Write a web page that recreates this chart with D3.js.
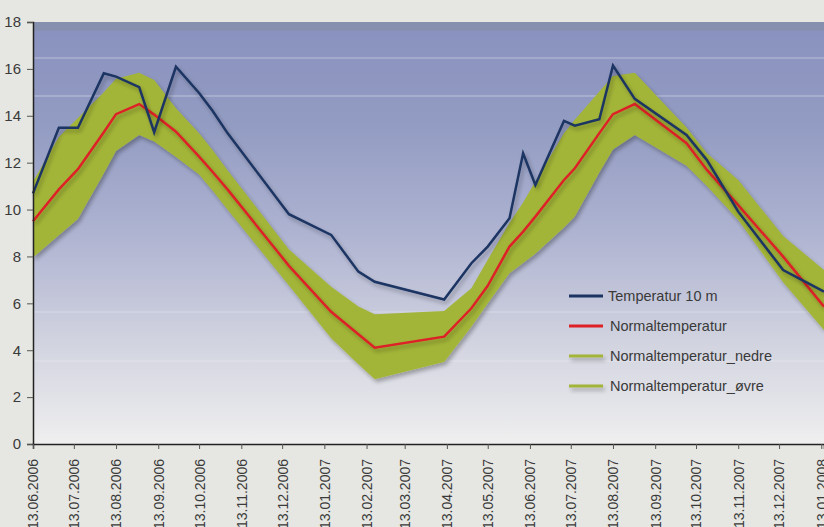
<!DOCTYPE html>
<html>
<head>
<meta charset="utf-8">
<script src="https://cdn.jsdelivr.net/npm/d3@7"></script>
<style>
  body { margin: 0; background: #e6e7e2; }
  svg { display: block; }
  text { font-family: "Liberation Sans", Arial, sans-serif; fill: #3a3a3a; }
</style>
</head>
<body>
<svg width="824" height="527"></svg>
<script>
// measurement dates (shared by all series)
const dates = ['2006-06-13', '2006-07-02', '2006-07-16', '2006-08-04', '2006-08-13', '2006-08-30',
  '2006-09-10', '2006-09-26', '2006-10-13', '2006-10-23', '2006-11-03', '2006-12-18',
  '2007-01-18', '2007-02-07', '2007-02-19', '2007-04-11', '2007-05-01', '2007-05-13',
  '2007-05-29', '2007-06-08', '2007-06-17', '2007-07-08', '2007-07-16', '2007-08-03',
  '2007-08-13', '2007-08-29', '2007-10-06', '2007-10-21', '2007-11-13', '2007-12-16', '2008-01-15'];

const temp10m = [10.69, 13.49, 13.49, 15.81, 15.67, 15.22, 13.30, 16.09, 14.97, 14.2, 13.25, 9.80,
  8.92, 7.35, 6.92, 6.16, 7.71, 8.42, 9.63, 12.40, 11.05, 13.78, 13.58, 13.85,
  16.14, 14.72, 13.18, 12.11, 9.91, 7.42, 6.5];

const normal = [9.5, 10.86, 11.72, 13.3, 14.07, 14.5, 14.05, 13.32, 12.26, 11.6, 10.85, 7.6,
  5.64, 4.68, 4.11, 4.58, 5.79, 6.75, 8.42, 9.06, 9.7, 11.26, 11.76, 13.26,
  14.07, 14.5, 12.83, 11.69, 10.19, 7.99, 5.86];

const nedre = [7.96, 8.9, 9.6, 11.54, 12.5, 13.18, 12.9, 12.24, 11.5, 10.8, 9.99, 6.76,
  4.51, 3.4, 2.76, 3.5, 5.0, 5.99, 7.28, 7.72, 8.12, 9.23, 9.7, 11.58,
  12.56, 13.18, 11.87, 11.0, 9.55, 6.9, 4.86];

const ovre = [11.2, 13.1, 13.9, 15.0, 15.58, 15.84, 15.53, 14.32, 13.25, 12.53, 11.67, 8.3,
  6.71, 5.87, 5.53, 5.67, 6.64, 7.86, 9.43, 10.3, 11.2, 13.25, 13.83, 15.04,
  15.7, 15.84, 13.5, 12.4, 11.26, 8.87, 7.42];

const xTickLabels = ['13.06.2006', '13.07.2006', '13.08.2006', '13.09.2006', '13.10.2006',
  '13.11.2006', '13.12.2006', '13.01.2007', '13.02.2007', '13.03.2007', '13.04.2007',
  '13.05.2007', '13.06.2007', '13.07.2007', '13.08.2007', '13.09.2007', '13.10.2007',
  '13.11.2007', '13.12.2007', '13.01.2008'];
const yTicks = [0, 2, 4, 6, 8, 10, 12, 14, 16, 18];

const legendNames = ['Temperatur 10 m', 'Normaltemperatur', 'Normaltemperatur_nedre', 'Normaltemperatur_øvre'];
const legendColors = ['#1b3462', '#dc2127', '#a3b538', '#a3b538'];

const parse = d3.timeParse('%Y-%m-%d');
const parseTick = d3.timeParse('%d.%m.%Y');
const data = dates.map((d, i) => ({
  date: parse(d), t: temp10m[i], n: normal[i], lo: nedre[i], hi: ovre[i]
}));

const margin = { left: 33, right: 824, top: 22, bottom: 444 };

const svg = d3.select('svg');

const x = d3.scaleTime()
  .domain([parse('2006-06-13'), parse('2008-01-15')])
  .range([margin.left, margin.right]);
const y = d3.scaleLinear()
  .domain([0, 18])
  .range([margin.bottom, margin.top]);

const defs = svg.append('defs');
const grad = defs.append('linearGradient')
  .attr('id', 'bg').attr('x1', 0).attr('y1', 0).attr('x2', 0).attr('y2', 1);
[[0, '#878fae'], [0.02, '#878fb0'], [0.021, '#8a92bf'], [0.25, '#939cc2'], [0.5, '#aeb3d1'],
  [0.75, '#d0d2df'], [1, '#efefef']].forEach(s => {
  grad.append('stop').attr('offset', s[0]).attr('stop-color', s[1]);
});

const shadow = defs.append('filter').attr('id', 'shadow')
  .attr('filterUnits', 'userSpaceOnUse')
  .attr('x', 0).attr('y', 0).attr('width', 824).attr('height', 527);
shadow.append('feGaussianBlur').attr('in', 'SourceAlpha').attr('stdDeviation', 2);
shadow.append('feOffset').attr('dx', 2).attr('dy', 3).attr('result', 'off');
shadow.append('feComponentTransfer').append('feFuncA').attr('type', 'linear').attr('slope', 0.3);
const merge = shadow.append('feMerge');
merge.append('feMergeNode');
merge.append('feMergeNode').attr('in', 'SourceGraphic');

// plot background
svg.append('rect')
  .attr('x', margin.left).attr('y', margin.top)
  .attr('width', margin.right - margin.left).attr('height', margin.bottom - margin.top)
  .attr('fill', 'url(#bg)');

// faint light bands from the background
[58, 96, 312, 361].forEach((py, i) => {
  svg.append('line')
    .attr('x1', margin.left).attr('x2', margin.right).attr('y1', py).attr('y2', py)
    .attr('stroke', '#fff').attr('stroke-opacity', i < 2 ? 0.4 : 0.3).attr('stroke-width', 1);
});

const chart = svg.append('g');

// normal range band
chart.append('path')
  .datum(data)
  .attr('fill', '#a3b538')
  .attr('filter', 'url(#shadow)')
  .attr('d', d3.area()
    .x(d => x(d.date))
    .y0(d => y(d.lo))
    .y1(d => y(d.hi)));

chart.append('path')
  .datum(data)
  .attr('fill', 'none')
  .attr('stroke', '#dc2127')
  .attr('stroke-width', 2.5)
  .attr('filter', 'url(#shadow)')
  .attr('d', d3.line().x(d => x(d.date)).y(d => y(d.n)));

chart.append('path')
  .datum(data)
  .attr('fill', 'none')
  .attr('stroke', '#1b3462')
  .attr('stroke-width', 2.5)
  .attr('filter', 'url(#shadow)')
  .attr('d', d3.line().x(d => x(d.date)).y(d => y(d.t)));

// y axis
const yAxis = svg.append('g')
  .attr('transform', `translate(${margin.left},0)`)
  .call(d3.axisLeft(y).tickValues(yTicks).tickSize(6).tickPadding(6));
yAxis.select('.domain').attr('stroke', '#222').attr('stroke-width', 1.5);
yAxis.selectAll('.tick line').attr('stroke', '#555');
yAxis.selectAll('text').attr('font-size', 15).attr('fill', '#3a3a3a')
  .attr('font-family', '"Liberation Sans", Arial, sans-serif');

// x axis
const xAxis = svg.append('g')
  .attr('transform', `translate(0,${margin.bottom})`)
  .call(d3.axisBottom(x)
    .tickValues(xTickLabels.map(parseTick))
    .tickFormat(d3.timeFormat('%d.%m.%Y'))
    .tickSize(5));
xAxis.select('.domain').attr('stroke', '#222').attr('stroke-width', 1.5);
xAxis.selectAll('.tick line').attr('stroke', '#555');
xAxis.selectAll('text')
  .attr('font-size', 14)
  .attr('fill', '#3a3a3a')
  .attr('font-family', '"Liberation Sans", Arial, sans-serif')
  .attr('text-anchor', 'end')
  .attr('transform', 'rotate(-90)')
  .attr('x', -15)
  .attr('y', 0)
  .attr('dy', '0.35em');

// legend
const legend = svg.append('g');
legendNames.forEach((name, i) => {
  const ly = 296 + i * 30;
  legend.append('rect')
    .attr('x', 569).attr('y', ly - 1.5).attr('width', 34).attr('height', 3)
    .attr('fill', legendColors[i])
    .attr('filter', i > 1 ? 'url(#shadow)' : null);
  legend.append('text')
    .attr('x', i == 0 ? 608 : 610).attr('y', ly)
    .attr('dy', '0.35em')
    .attr('font-size', 14.5)
    .text(name);
});
</script>
</body>
</html>
